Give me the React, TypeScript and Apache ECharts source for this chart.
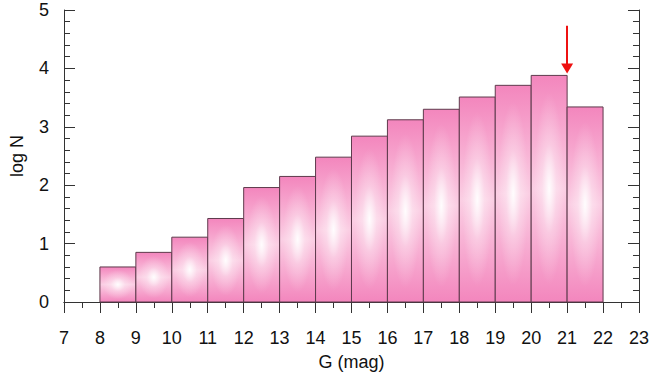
import React, { useEffect, useRef } from "react";
import * as echarts from "echarts";

// G magnitude bins (left edges) and log N values
const binStarts = [8, 9, 10, 11, 12, 13, 14, 15, 16, 17, 18, 19, 20, 21];
const logN = [0.6, 0.85, 1.11, 1.43, 1.96, 2.15, 2.48, 2.84, 3.12, 3.3, 3.51, 3.71, 3.88, 3.34];
const arrowX = 21;
const arrowFrom = 4.73;
const arrowTo = 4.0;

const FONT = "'Liberation Sans', Arial, sans-serif";

export default function App() {
  const ref = useRef<HTMLDivElement>(null);
  useEffect(() => {
    if (!ref.current) return;
    const chart = echarts.init(ref.current, null, { renderer: "svg" });
    const data = binStarts.map((s, i) => [s, s + 1, logN[i]]);
    const axisLine = { show: true, lineStyle: { color: "#333", width: 1 } };
    const tickStyle = { color: "#333", width: 1 };
    chart.setOption({
      animation: false,
      backgroundColor: "#fff",
      textStyle: { fontFamily: FONT },
      grid: { left: 61, right: 11, top: 10, bottom: 78 },
      xAxis: [
        {
          type: "value",
          position: "bottom",
          min: 7,
          max: 23,
          interval: 1,
          axisLine,
          axisTick: { show: true, inside: false, length: 11, lineStyle: tickStyle },
          minorTick: { show: true, splitNumber: 2, length: 6, lineStyle: tickStyle },
          splitLine: { show: false },
          axisLabel: { fontSize: 18, color: "#111", margin: 27, fontFamily: FONT },
          name: "G (mag)",
          nameLocation: "middle",
          nameGap: 51,
          nameTextStyle: { fontSize: 18, color: "#111", fontFamily: FONT },
        },
        {
          type: "value",
          position: "top",
          min: 7,
          max: 23,
          interval: 1,
          axisLine,
          axisTick: { show: true, inside: true, length: 11, lineStyle: tickStyle },
          minorTick: { show: true, splitNumber: 2, length: 6, lineStyle: tickStyle },
          splitLine: { show: false },
          axisLabel: { show: false },
        },
      ],
      yAxis: [
        {
          type: "value",
          position: "left",
          min: 0,
          max: 5,
          interval: 1,
          axisLine,
          axisTick: { show: true, inside: true, length: 11, lineStyle: tickStyle },
          minorTick: { show: true, splitNumber: 5, length: 6, lineStyle: tickStyle },
          splitLine: { show: false },
          axisLabel: { fontSize: 18, color: "#111", margin: 15, fontFamily: FONT },
          name: "log N",
          nameLocation: "middle",
          nameGap: 38,
          nameTextStyle: { fontSize: 18, color: "#111", fontFamily: FONT },
        },
        {
          type: "value",
          position: "right",
          min: 0,
          max: 5,
          interval: 1,
          axisLine,
          axisTick: { show: true, inside: true, length: 11, lineStyle: tickStyle },
          minorTick: { show: true, splitNumber: 5, length: 6, lineStyle: tickStyle },
          splitLine: { show: false },
          axisLabel: { show: false },
        },
      ],
      series: [
        {
          type: "custom",
          xAxisIndex: 0,
          yAxisIndex: 0,
          data,
          encode: { x: [0, 1], y: 2 },
          renderItem: (params: any, api: any) => {
            const x0 = api.value(0);
            const x1 = api.value(1);
            const v = api.value(2);
            const p0 = api.coord([x0, v]);
            const p1 = api.coord([x1, 0]);
            const shape = {
              x: p0[0],
              y: p0[1],
              width: p1[0] - p0[0],
              height: p1[1] - p0[1],
            };
            return {
              type: "group",
              children: [
                {
                  type: "rect",
                  shape,
                  style: {
                    fill: {
                      type: "linear",
                      x: 0,
                      y: 0,
                      x2: 0,
                      y2: 1,
                      colorStops: [
                        { offset: 0, color: "#f386bd" },
                        { offset: 0.5, color: "#fbcfe4" },
                        { offset: 1, color: "#f386bd" },
                      ],
                    },
                  },
                },
                {
                  type: "rect",
                  shape,
                  style: {
                    fill: {
                      type: "radial",
                      x: 0.5,
                      y: 0.5,
                      r: 0.5,
                      colorStops: [
                        { offset: 0, color: "rgba(255,255,255,0.95)" },
                        { offset: 0.4, color: "rgba(255,255,255,0.3)" },
                        { offset: 0.85, color: "rgba(255,255,255,0)" },
                      ],
                    },
                    stroke: "#5e3a4c",
                    lineWidth: 1,
                  },
                },
              ],
            };
          },
          markLine: {
            silent: true,
            symbol: ["none", "triangle"],
            symbolSize: [12, 10],
            label: { show: false },
            lineStyle: { color: "#ee1111", width: 2, type: "solid" },
            data: [[{ coord: [arrowX, arrowFrom] }, { coord: [arrowX, arrowTo] }]],
          },
        },
      ],
    });
    return () => chart.dispose();
  }, []);
  return (
    <div
      ref={ref}
      style={{ position: "absolute", left: 0, top: 0, width: 652, height: 380 }}
    />
  );
}
